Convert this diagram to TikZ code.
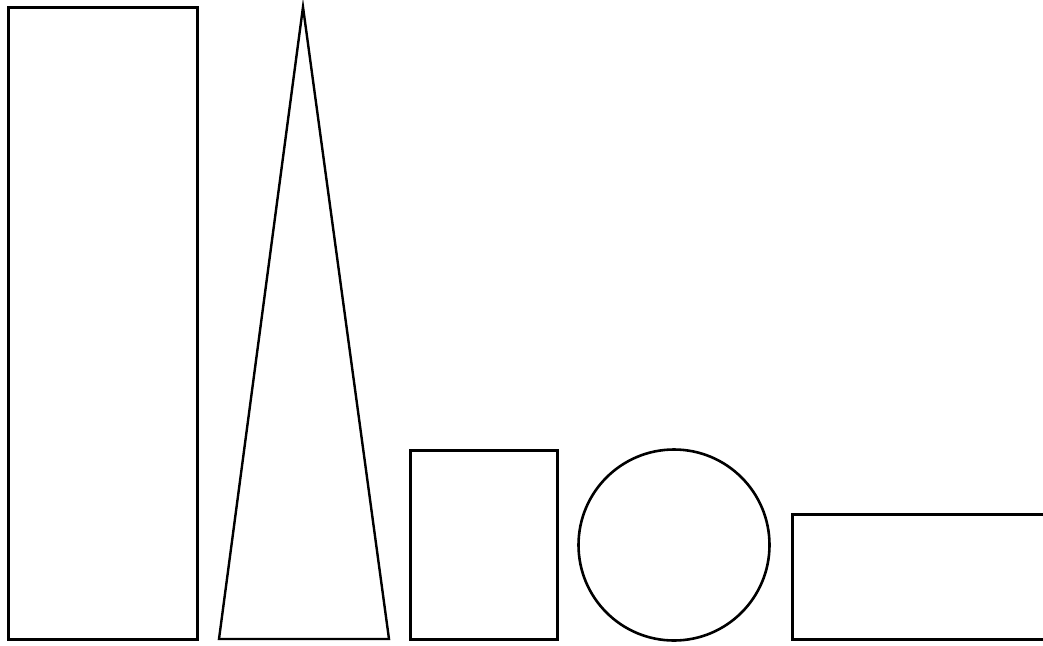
\documentclass[tikz,border=0pt]{standalone}
\begin{document}
\begin{tikzpicture}[x=1pt,y=-1pt,shape line/.style={draw=black,line width=3pt,line join=miter}]
\useasboundingbox[fill=white] (0,0) rectangle (1043,645);
% tall rectangle
\draw[shape line] (8,7) rectangle (197,639);
% triangle
\draw[shape line,line width=2.4pt] (303,7) -- (389,639) -- (219,639) -- cycle;
% square
\draw[shape line] (410,450) rectangle (557,639);
% circle
\draw[shape line,line width=2.6pt] (674,545) circle (95.5);
% wide rectangle, cut off at right edge
\draw[shape line] (1046,514) -- (792,514) -- (792,639) -- (1046,639);
\end{tikzpicture}
\end{document}
